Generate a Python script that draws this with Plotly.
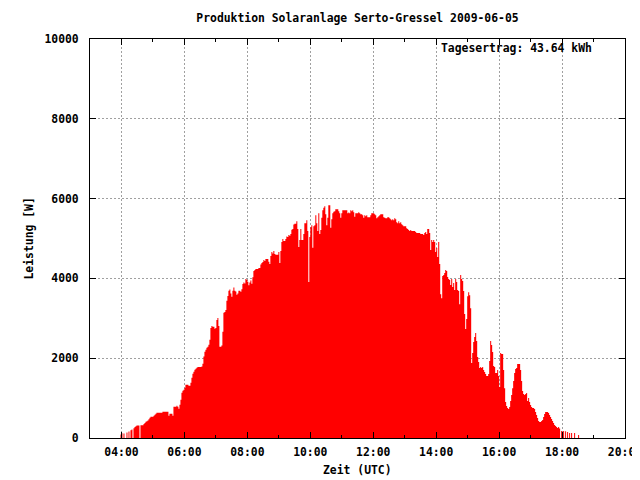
import pandas as pd
import plotly.graph_objects as go

# ---------------- data ----------------
titel = "Produktion Solaranlage Serto-Gressel 2009-06-05"
tagesertrag = "Tagesertrag: 43.64 kWh"
zeit_start = "2009-06-05 03:58:06"
intervall_s = 114.3  # sampling interval of the readings

leistung = [
    85, 120, 0, 110, 0, 0, 135, 0, 165, 0, 195, 215, 0, 245, 275, 295, 315, 315, 315, 0,
    320, 320, 320, 350, 375, 410, 420, 440, 470, 510, 535, 535, 535, 560, 585, 610,
    635, 635, 635, 635, 635, 635, 660, 660, 660, 660, 660, 660, 560, 610, 610, 610, 560,
    785, 785, 785, 810, 785, 735, 835, 960, 1135, 1185, 1210, 1260, 1335, 1335, 1335,
    1310, 1310, 1385, 1510, 1610, 1660, 1710, 1735, 1760, 1780, 1780, 1780, 1780, 1790,
    1860, 2040, 2160, 2210, 2260, 2290, 2340, 2460, 2760, 2810, 2790, 2790, 2740, 2760,
    2960, 3010, 2810, 2290, 2290, 2320, 2660, 3140, 3160, 3210, 3440, 3560, 3690, 3720,
    3620, 3540, 3690, 3770, 3690, 3670, 3590, 3620, 3690, 3690,
    3665, 3725, 3860, 3900, 3875, 3985, 3965, 3915, 3830, 3900, 3950, 3865, 4030, 4185,
    4210, 4235, 4235, 4235, 4260, 4260, 4350, 4385, 4410, 4460, 4435, 4485, 4485, 4485,
    4415, 4360, 4560, 4660, 4625, 4685, 4610, 4590, 4590, 4590, 4660, 4385, 4685, 4910,
    4985, 4935, 4935, 4985, 5050, 5035, 5085, 5070, 5110, 5220, 5235, 5350, 5370, 5370,
    5435, 5235, 4785, 4960, 5235, 4960, 4960, 5110, 5385, 5385, 5460, 5185, 3910, 5035,
    5285, 5335, 4770, 5310, 5335, 5585, 5385, 5185, 5635, 5110, 5210, 5520, 5710, 5770,
    5810, 5610, 5335, 5520, 5835, 5835, 5270, 5485, 5635, 5670, 5685, 5730, 5730, 5730,
    5685, 5635, 5520, 5635, 5710, 5710, 5710, 5710, 5710, 5635, 5650, 5635, 5710, 5685,
    5710, 5660, 5545, 5635, 5635, 5635, 5660, 5635, 5610, 5610, 5585, 5520, 5585,
    5560, 5585, 5535, 5535, 5535, 5585, 5635, 5635, 5635, 5610, 5585, 5510, 5535, 5560,
    5585, 5610, 5610, 5610, 5535, 5520, 5510, 5510, 5535, 5535, 5510, 5485, 5460, 5485,
    5460, 5510, 5485, 5410, 5385, 5435, 5385, 5410, 5360, 5335, 5310, 5310, 5310, 5260,
    5235, 5210, 5185, 5210, 5185, 5185, 5185, 5185, 5160, 5135, 5135, 5135, 5135, 5110,
    5110, 5110, 5085, 5135, 5160, 5110, 5235, 5235, 5135, 4710, 4960, 4910, 4960, 4910,
    4660, 4760, 4535, 4910, 4360, 3605, 3505, 4060, 4085, 4135, 4210, 4185, 4035, 3985,
    3960, 3835, 3985, 3785, 3885, 3710, 3985, 3910, 3710, 3685, 3355, 4085, 3985, 3935,
    3685, 3105, 2730, 2980, 3555, 3655, 3580, 3255, 1880, 2130, 2405, 2530, 2630, 2430,
    2030, 1905, 1755, 1780, 1755, 1780, 1705, 1655, 1605, 1555, 1555, 1605, 1930,
    2430, 2330, 2155, 1805, 1780, 1630, 1630, 1705, 1555, 1280, 2130, 2105, 2105, 1705,
    1250, 900, 800, 750, 725, 775, 925, 1075, 1250, 1430, 1630, 1730, 1755, 1855, 1855,
    1855, 1705, 1430, 1175, 1100, 1075, 1100, 1125, 925, 1000, 900, 825, 775, 750, 750,
    725, 650, 575, 500, 425, 400, 400, 425, 450, 525, 600, 650, 650, 650, 625, 575, 525,
    475, 425, 375, 325, 300, 275, 250, 275, 240, 0, 175, 0, 175, 0, 170, 0, 150, 0, 125,
    0, 125, 0, 0, 125, 0, 0, 0, 75, 0,
]

x_range = ["2009-06-05 03:00", "2009-06-05 20:00"]
y_range = [0, 10000]

zeit = pd.Timestamp(zeit_start) + pd.to_timedelta([i * intervall_s for i in range(len(leistung))], unit="s")

# ---------------- figure ----------------
FONT = "DejaVu Sans Mono"
FS = 11.4
OFF = 8  # page body margin in the viewer
W, H = 640 - OFF, 480 - OFF

fig = go.Figure()
fig.add_trace(go.Scatter(
    x=zeit, y=leistung, mode="lines",
    line=dict(width=0, color="#ff0000", shape="hv"),
    fill="tozeroy", fillcolor="#ff0000",
    hoverinfo="skip", showlegend=False,
))

axis_common = dict(
    showline=True, linecolor="black", linewidth=1, mirror="allticks",
    ticks="inside", ticklen=6, tickcolor="black", tickwidth=1,
    showgrid=True, gridcolor="#a0a0a0", gridwidth=1, griddash="2px,2px",
    zeroline=False, ticklabeloverflow="allow",
    tickfont=dict(family=FONT, size=FS, color="black", weight="bold"),
)

fig.update_xaxes(
    type="date", range=x_range, dtick=2 * 3600 * 1000, tickformat="%H:%M",
    minor=dict(dtick=3600 * 1000, ticks="inside", ticklen=3, tickcolor="black", showgrid=False),
    ticklabelstandoff=3,
    **axis_common,
)
fig.update_yaxes(
    range=y_range, dtick=2000, tickformat="d",
    ticklabelstandoff=8,
    **axis_common,
)

ann_font = dict(family=FONT, size=FS, color="black", weight="bold")
pl, pr, pt, pb = 90 - OFF, 625 - OFF, 39 - OFF, 438 - OFF
pw, ph = pr - pl, pb - pt
fig.update_layout(
    width=W, height=H,
    margin=dict(l=pl, r=W - pr, t=pt, b=H - pb, autoexpand=False),
    paper_bgcolor="white", plot_bgcolor="white",
    title=dict(text=titel, x=(357.5 - OFF) / W, xanchor="center", y=1 - (18 - OFF) / H, yanchor="middle",
               font=ann_font),
    annotations=[
        dict(text="Zeit (UTC)", xref="paper", yref="paper", x=0.5, y=-(470 - 438) / ph,
             xanchor="center", yanchor="middle", showarrow=False, font=ann_font),
        dict(text="Leistung [W]", xref="paper", yref="paper", x=(28 - 90) / pw, y=0.5,
             xanchor="center", yanchor="middle", textangle=-90, showarrow=False, font=ann_font),
        dict(text=tagesertrag, xref="paper", yref="paper", x=(594 - 90) / pw, y=(438 - 48) / ph,
             xanchor="right", yanchor="middle", showarrow=False, font=ann_font),
    ],
)

fig.write_html("out.html")
